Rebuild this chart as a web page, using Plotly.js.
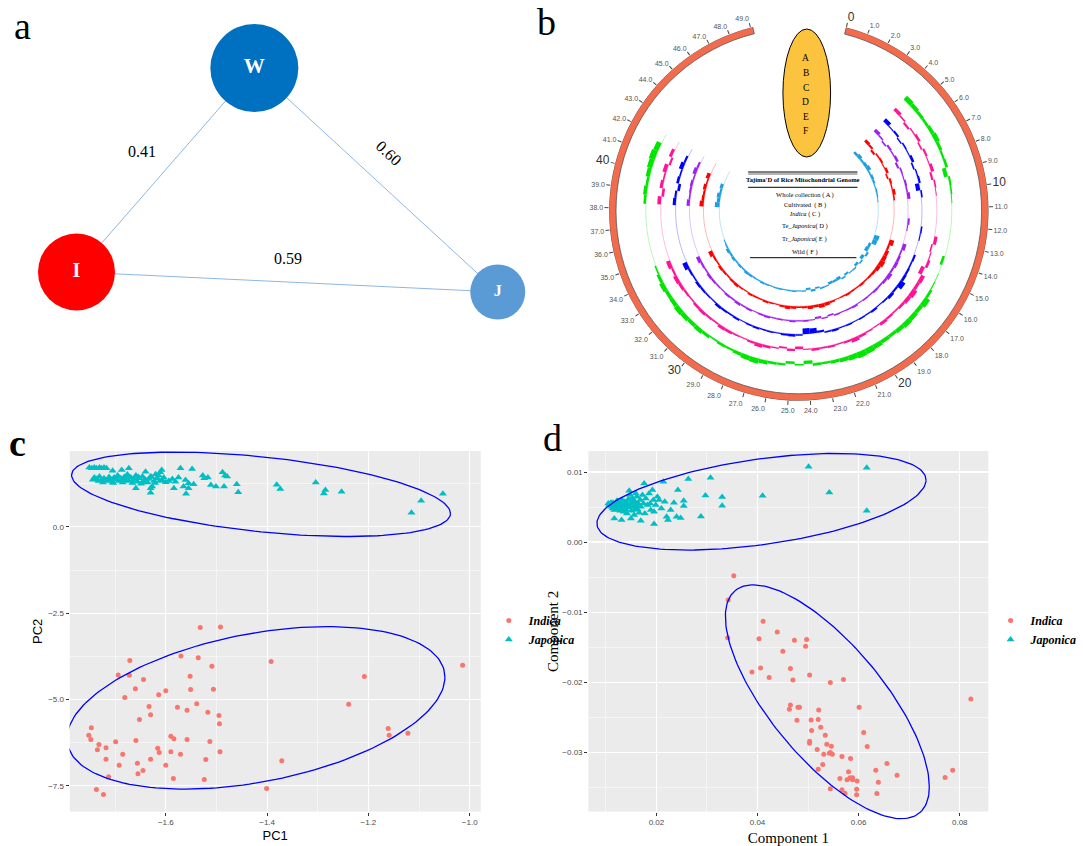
<!DOCTYPE html>
<html><head><meta charset="utf-8">
<script src="https://cdn.plot.ly/plotly-3.0.1.min.js"></script>
<style>html,body{margin:0;padding:0;background:#fff}#chart{width:1083px;height:846px}</style>
</head><body><div id="chart"></div>
<script>
// ================= DATA =================
// (a) network
const networkNodes = ['W', 'I', 'J'];
const networkEdgeFrom = ['I', 'W', 'I'];
const networkEdgeTo = ['W', 'J', 'J'];
const networkWeights = [0.41, 0.60, 0.59];

// (b) circular Tajima's D tracks (window position, genome units 0-49)
const chromTicks = [0,1,2,3,4,5,6,7,8,9,10,11,12,13,14,15,16,17,18,19,20,21,22,23,24,25,26,27,28,29,30,31,32,33,34,35,36,37,38,39,40,41,42,43,44,45,46,47,48,49];
const chromLength = 49.1;
const tajimaPos = [4.5,5,5.5,6,6.5,7,7.5,8,8.5,9,9.5,10,10.5,11,11.5,12,12.5,13,13.5,14,14.5,15,15.5,16,16.5,17,17.5,18,18.5,19,19.5,20,20.5,21,21.5,22,22.5,23,23.5,24,24.5,25,25.5,26,26.5,27,27.5,28,28.5,29,29.5,30,30.5,31,31.5,32,32.5,33,33.5,34,34.5,35,35.5,36,36.5,37,37.5,38,38.5,39,39.5,40,40.5,41,41.5,42];
const tajimaTrackEnd = 42.3;
const tajimaA = [1.0,1.4,0.8,1.2,1.6,0.6,1.0,0.8,0.4,0.6, 0.5,0.3,0,0,0,0,0,0,0,2.0, 1.8,-1.0,-1.4,0.8,-1.2,0.6,-1.0,0.5,0.4,-0.8, 0.6,-1.2,-0.8,-1.0,0.5,0.6,-0.6,0.8,-0.8,0.5, 0.4,0.6,0.5,0.4,0.6,0.5,0.4,0.6,0.8,0.5, 0.6,0.8,1.0,0.6,0.8,0.6,1.0,0.8,1.2,0.6, 0.4,0,0,0,0,0,0,0,1.8,1.2, 1.5,0.8,1.2,0,0,0];
const tajimaB = [1.2,0.8,-0.8,0.6,0.8,0.4,1.0,-0.6,0.8,0.5, 1.2,0.6,0,0,0,0,0,0,0,1.8, 0.8,1.4,1.6,2.0,1.5,1.0,0.8,0.6,0.8,0.5, 0.6,0.8,0.5,0.4,0.8,1.2,1.5,1.0,1.2,0.8, 0.6,1.0,1.2,0.8,0.4,0.6,0.8,0.5,0.6,0.8, 0.4,0.6,1.0,0.8,0.6,0.8,1.0,0.6,0.8,1.6, 0,0,0,0,0,0,0,0,1.6,1.0, 0.8,1.2,0.6,1.4,0,0];
const tajimaC = [1.4,0.6,-0.6,0.8,0.5,1.0,-0.8,0.6,0.4,0.8, 0.6,1.2,0,0,0,0.8,0.4,0,0,1.4, 0.6,1.0,1.2,0.8,1.5,1.0,0.6,0.8,0.5,0.6, 0.4,0.8,0.6,0.4,0.6,-0.6,0.5,-0.8,0.4,0.6, 0.5,0.8,0.4,0.6,0.5,0.8,0.6,0.4,0.8,0.6, 1.0,0.6,0.8,0.5,0.6,0.8,1.0,0.6,0.8,1.4, 0,0,0,0,0,0,0,0,1.2,0.6, 0.8,1.0,0.6,1.4,0.8,0];
const tajimaD = [1.6,0.4,0.8,-0.5,0.6,0.4,1.0,-0.6,0.5,0.8, -1.6,0.6,0,0,0,0,0.6,0.4,0,0, 0.8,0.6,0.8,1.0,2.2,0.8,1.2,0.6,0.4,0.8, 0.5,0.6,0.4,0.6,0.5,0.8,0.6,-0.8,-2.0,-2.2, 0.6,1.0,0.8,0.4,0.6,0.5,0.8,0.6,0.4,0.8, 0.6,0.8,1.0,0.5,0.6,0.8,1.0,0.6,0.8,1.8, 0,0,0,0,0,0,0,0,1.2,0.8, -1.0,1.0,0.6,1.6,0.8,0];
const tajimaE = [1.4,0.6,-0.8,0.5,1.0,-0.6,0.8,0.4,1.2,-0.8, 0.6,0.3,0,0,0,0,0,1.2,-0.6,0.4, 1.0,-1.5,1.6,1.2,2.0,1.5,1.0,0.6,0.8,1.2, 0.4,0.6,1.0,1.6,0.8,0.5,0.8,0.6,1.0,0.4, -1.0,0.8,-0.6,0.5,1.0,1.4,0.8,0.4,0.6,1.0, 1.2,0.6,0.8,1.2,1.0,0.6,0.8,1.2,1.5,0.8, 1.6,0,0,0,0,0,0,0,1.4,-1.0, 1.2,0.6,1.5,-0.8,1.2,0];
const tajimaF = [2.0,1.6,1.2,1.0,1.4,1.8,1.2,0.8,1.0,-1.5, 0.8,0.6,0.3,0,0,0,0,0,0,-1.0, 0,0.2,0.4,1.0,2.2,1.5,1.8,2.0,1.6,1.2, 1.4,1.8,2.2,2.4,2.0,1.6,1.2,0.8,1.0,-1.2, 0.6,-0.9,0.8,1.0,1.5,2.0,1.8,1.2,0.8,1.0, 0.6,1.2,1.6,1.4,1.8,2.0,1.6,1.4,1.8,1.2, 0.6,0,0,0,0,0,0,0,1.0,1.4, 1.0,1.6,2.0,2.4,2.0,0];
const tajimaLetters = ['A','B','C','D','E','F'];
const tajimaLegend = ['Whole collection ( A )', 'Cultivated  ( B )', '<i>Indica</i> ( C )', 'Te_<i>Japonica</i>( D )', 'Tr_<i>Japonica</i>( E )', 'Wild ( F )'];

// (c) PCA
const pcaIndicaPC1 = [-1.532,-1.492,-1.671,-1.570,-1.536,-1.392,-1.014,-1.509,-1.694,-1.672,-1.552,-1.208,-1.644,-1.660,-1.600,-1.551,-1.506,-1.614,-1.681,-1.239,-1.539,-1.633,-1.577,-1.558,-1.517,-1.630,-1.495,-1.652,-1.494,-1.747,-1.161,-1.752,-1.159,-1.122,-1.590,-1.584,-1.748,-1.558,-1.659,-1.699,-1.513,-1.732,-1.616,-1.718,-1.735,-1.590,-1.613,-1.493,-1.685,-1.571,-1.630,-1.718,-1.521,-1.371,-1.656,-1.692,-1.600,-1.645,-1.655,-1.713,-1.585,-1.524,-1.401,-1.737,-1.723];
const pcaIndicaPC2 = [-2.915,-2.896,-3.871,-3.736,-3.793,-3.900,-4.006,-4.035,-4.286,-4.295,-4.324,-4.334,-4.421,-4.691,-4.749,-4.710,-4.701,-4.865,-4.942,-5.135,-5.126,-5.203,-5.222,-5.309,-5.367,-5.444,-5.463,-5.579,-5.705,-5.820,-5.840,-6.033,-6.033,-5.975,-6.062,-6.139,-6.158,-6.158,-6.187,-6.226,-6.216,-6.303,-6.409,-6.400,-6.458,-6.515,-6.535,-6.515,-6.583,-6.583,-6.728,-6.728,-6.737,-6.776,-6.844,-6.902,-6.902,-7.056,-7.153,-7.239,-7.288,-7.317,-7.577,-7.606,-7.751];
const pcaJaponicaPC1 = [-1.751,-1.746,-1.741,-1.737,-1.731,-1.727,-1.722,-1.717,-1.705,-1.687,-1.673,
 -1.741,-1.737,-1.731,-1.727,-1.722,-1.717,-1.712,-1.708,-1.705,-1.702,-1.699,-1.695,-1.692,-1.689,-1.685,-1.682,-1.679,-1.676,-1.673,-1.669,-1.666,-1.663,-1.659,-1.656,-1.653,-1.649,-1.646,-1.643,-1.636,-1.633,-1.623,-1.617,-1.607,-1.604,-1.594,-1.587,-1.581,
 -1.744,-1.733,-1.724,-1.713,-1.704,-1.693,-1.684,-1.674,-1.665,-1.654,-1.645,-1.640,-1.628,-1.621,-1.612,
 -1.659,-1.630,-1.630,-1.627,
 -1.608,-1.611,-1.614,-1.620,-1.640,-1.630,-1.600,-1.584,-1.575,-1.571,-1.561,-1.555,-1.565,-1.545,-1.555,-1.560,-1.548,-1.527,-1.524,-1.517,-1.511,-1.501,-1.485,-1.488,-1.483,-1.479,-1.460,-1.457,
 -1.381,-1.374,-1.304,-1.288,-1.285,-1.253,-1.115,-1.096,-1.053];
const pcaJaponicaPC2 = [1.72,1.70,1.72,1.70,1.72,1.70,1.72,1.70,1.63,1.65,1.70,
 1.43,1.39,1.46,1.36,1.41,1.33,1.45,1.37,1.31,1.43,1.37,1.49,1.33,1.41,1.29,1.45,1.37,1.52,1.33,1.43,1.27,1.39,1.49,1.31,1.41,1.25,1.46,1.35,1.29,1.39,1.33,1.41,1.35,1.43,1.33,1.39,1.31,
 1.37,1.33,1.29,1.37,1.27,1.43,1.35,1.47,1.35,1.45,1.29,1.37,1.45,1.27,1.33,
 1.120,1.120,0.994,1.168,
 1.651,1.583,1.487,1.525,1.602,1.458,1.294,1.120,1.429,1.699,1.361,1.265,1.168,1.236,1.120,0.965,1.680,1.487,1.409,1.429,1.216,1.168,1.168,1.583,1.487,1.458,1.236,1.004,
 1.22,1.10,1.29,0.97,1.07,1.02,0.41,0.76,0.96];

// (d) component analysis
const compIndica1 = [0.0353,0.0342,0.0341,0.0411,0.0439,0.0403,0.0473,0.0497,0.0495,0.0450,0.0465,0.0406,0.0389,0.0423,0.0503,0.0470,0.0570,0.0544,0.0822,0.0465,0.0480,0.0483,0.0601,0.0463,0.0521,0.0478,0.0506,0.0520,0.0525,0.0507,0.0610,0.0534,0.0617,0.0503,0.0503,0.0537,0.0546,0.0518,0.0542,0.0548,0.0531,0.0544,0.0567,0.0584,0.0656,0.0529,0.0634,0.0786,0.0520,0.0580,0.0676,0.0563,0.0577,0.0583,0.0588,0.0588,0.0597,0.0771,0.0639,0.0544,0.0567,0.0573,0.0596,0.0596,0.0636];
const compIndica2 = [-0.0048,-0.00827,-0.01365,-0.01132,-0.01284,-0.01379,-0.01403,-0.01393,-0.01488,-0.0156,-0.01807,-0.01797,-0.01855,-0.01935,-0.01897,-0.01969,-0.01964,-0.02007,-0.0224,-0.02325,-0.02359,-0.02359,-0.02359,-0.02387,-0.02397,-0.02544,-0.02539,-0.02534,-0.02644,-0.02691,-0.0272,-0.02758,-0.0292,-0.02844,-0.02872,-0.02886,-0.02915,-0.02962,-0.03015,-0.03029,-0.03029,-0.03005,-0.03062,-0.03091,-0.03162,-0.03176,-0.03257,-0.03257,-0.03243,-0.03281,-0.03329,-0.03376,-0.03395,-0.03367,-0.03395,-0.03367,-0.0341,-0.03362,-0.03428,-0.03524,-0.03538,-0.03585,-0.03528,-0.03609,-0.0359];
const compJaponica1 = [0.01049,0.01068,0.01101,0.01114,0.01134,0.01154,0.01167,0.0118,0.0120,0.0122,0.01232,0.01245,0.01265,0.01285,0.01298,0.01311,0.01331,0.0135,0.01363,0.01377,0.01396,0.01416,0.01429,0.01442,0.01462,0.01481,0.01495,0.01508,0.01527,0.01547,0.0156,0.01573,0.01593,0.01613,0.01626,0.01639,0.01658,0.01678,0.01691,0.01724,0.01744,0.01757,0.0177,0.0179,0.01822,0.01855,0.01875,0.01888,0.01921,0.0194,0.01953,0.01986,0.02019,0.02052,0.02098,0.02137,0.02164,0.02203,0.02229,0.02282,0.02347,0.02399,0.02425,0.01311,0.01167,0.01495,0.01691,0.01953,
 0.0109,0.0114,0.0119,0.0126,0.0134,0.0140,0.0147,0.0154,0.0161,0.0122,0.0132,0.0128,0.0139,0.0148,0.0157,
 0.0501,0.0616,0.0542,0.0616,0.0410,0.0307,0.0263,0.0330,0.0330,0.0297,0.0288,0.0254,0.0254,0.0248];
const compJaponica2 = [0.00552,0.00528,0.00561,0.00504,0.0048,0.00514,0.00456,0.00537,0.00495,0.00466,0.00528,0.00571,0.00504,0.00447,0.00552,0.0048,0.00514,0.00433,0.00575,0.00466,0.00533,0.00409,0.00495,0.00609,0.00732,0.0067,0.00552,0.00447,0.00623,0.00504,0.00385,0.00575,0.00694,0.00647,0.00466,0.00552,0.00418,0.00599,0.00504,0.0067,0.00552,0.00837,0.00409,0.00623,0.00528,0.00694,0.00552,0.00456,0.00742,0.00599,0.00433,0.00528,0.00647,0.00599,0.0048,0.00861,0.00575,0.00361,0.00314,0.00456,0.00561,0.00361,0.00742,0.00314,0.00338,0.00338,0.00304,0.00257,
 0.0054,0.0056,0.0055,0.0053,0.0054,0.0057,0.0052,0.0056,0.0051,0.0059,0.0060,0.0049,0.0047,0.0060,0.0046,
 0.01075,0.0106,0.00709,0.00447,0.00661,0.00918,0.00899,0.00642,0.00518,0.00666,0.00366,0.0059,0.00514,0.00342];

// ================= STYLE / GEOMETRY =================
const W = 1083, H = 846;
const px = x => x / W, py = y => 1 - y / H;
const SERIF = 'Liberation Serif, Times New Roman, serif';
const SANS = 'Liberation Sans, Arial, sans-serif';
const INDICA_COL = '#F8766D', JAPONICA_COL = '#00BFC4';

const nodeXY = {W: [256, 68], I: [77, 272], J: [501, 292]};
const nodeSize = {W: 88, I: 77, J: 55};
const nodeColor = {W: '#0070C0', I: '#FF0000', J: '#5B9BD5'};
const nodeFont = {W: 21, I: 20, J: 16};
const edgeLabelXY = [[143, 151, 0], [392, 153, 43], [290, 258, 0]];

const degPerUnit = 6.75;          // angular scale of the ring
const ringInner = 184, ringOuter = 191;
const trackColors = ['#1E9FE0', '#FF0000', '#A020F0', '#0000FF', '#FF1493', '#00E600'];
const trackRadius = [80, 96, 110, 124, 139, 154];
const trackScale = 2.6;
const trackValues = [tajimaA, tajimaB, tajimaC, tajimaD, tajimaE, tajimaF];

// ellipses (center + conjugate semi-axes, data units)
const ellC = {
  jap: {cx: -1.412, cy: 0.946, ux: 0.374, uy: -0.555, vx: 0, vy: 1.09},
  ind: {cx: -1.422, cy: -5.241, ux: 0.373, uy: 0.888, vx: 0, vy: 2.18}
};
const ellD = {
  jap: {cx: 0.04078, cy: 0.005754, ux: 0.03255, uy: 0.00309, vx: 0, vy: 0.006163},
  ind: {cx: 0.05381, cy: -0.0228, ux: 0.02017, uy: -0.01213, vx: 0, vy: 0.01147}
};
function ellipse(e) {
  const xs = [], ys = [];
  for (let k = 0; k <= 180; k++) {
    const t = 2 * Math.PI * k / 180;
    xs.push(e.cx + e.ux * Math.cos(t) + e.vx * Math.sin(t));
    ys.push(e.cy + e.uy * Math.cos(t) + e.vy * Math.sin(t));
  }
  return {xs, ys};
}

const traces = [];

// ---- (a) network ----
networkWeights.forEach((w, i) => {
  const a = nodeXY[networkEdgeFrom[i]], b = nodeXY[networkEdgeTo[i]];
  traces.push({type: 'scatter', mode: 'lines', x: [a[0], b[0]], y: [a[1], b[1]], xaxis: 'x3', yaxis: 'y3',
    line: {color: '#8DB6E4', width: 1}, showlegend: false, hoverinfo: 'skip'});
});
traces.push({type: 'scatter', mode: 'markers+text', xaxis: 'x3', yaxis: 'y3',
  x: networkNodes.map(n => nodeXY[n][0]), y: networkNodes.map(n => nodeXY[n][1]),
  text: networkNodes.map(n => '<b>' + n + '</b>'), textposition: 'middle center',
  textfont: {family: SERIF, color: '#fff', size: networkNodes.map(n => nodeFont[n])},
  marker: {size: networkNodes.map(n => nodeSize[n]), color: networkNodes.map(n => nodeColor[n]), line: {width: 0}, opacity: 1},
  showlegend: false, hoverinfo: 'skip'});

// ---- (b) circular plot ----
traces.push({type: 'barpolar', subplot: 'polar', r: [ringOuter - ringInner], base: [ringInner],
  theta: [chromLength / 2 * degPerUnit], width: [chromLength * degPerUnit],
  marker: {color: '#F26B4D', line: {color: '#555', width: 0.8}}, showlegend: false, hoverinfo: 'skip'});
trackValues.forEach((vals, k) => {
  const basePos = tajimaPos.concat([tajimaTrackEnd]);
  traces.push({type: 'scatterpolar', subplot: 'polar', mode: 'lines',
    theta: basePos.map(p => p * degPerUnit), r: basePos.map(() => trackRadius[k]),
    line: {color: trackColors[k], width: 0.7}, opacity: 0.4, showlegend: false, hoverinfo: 'skip'});
  traces.push({type: 'barpolar', subplot: 'polar',
    theta: tajimaPos.map(p => p * degPerUnit), r: vals.map(v => v * trackScale),
    base: tajimaPos.map(() => trackRadius[k]), width: tajimaPos.map(() => 0.5 * degPerUnit),
    marker: {color: trackColors[k], line: {width: 0}}, showlegend: false, hoverinfo: 'skip'});
});

// ---- (c) PCA ----
traces.push({type: 'scatter', mode: 'markers', x: pcaIndicaPC1, y: pcaIndicaPC2, name: '<b><i>Indica</i></b>',
  marker: {color: INDICA_COL, size: 5, symbol: 'circle'}, legend: 'legend', hoverinfo: 'skip'});
traces.push({type: 'scatter', mode: 'markers', x: pcaJaponicaPC1, y: pcaJaponicaPC2, name: '<b><i>Japonica</i></b>',
  marker: {color: JAPONICA_COL, size: 7, symbol: 'triangle-up'}, legend: 'legend', hoverinfo: 'skip'});
['jap', 'ind'].forEach(k => {
  const e = ellipse(ellC[k]);
  traces.push({type: 'scatter', mode: 'lines', x: e.xs, y: e.ys, line: {color: '#0000FF', width: 1.3},
    showlegend: false, hoverinfo: 'skip'});
});

// ---- (d) components ----
traces.push({type: 'scatter', mode: 'markers', x: compIndica1, y: compIndica2, xaxis: 'x2', yaxis: 'y2', name: '<b><i>Indica</i></b>',
  marker: {color: INDICA_COL, size: 5, symbol: 'circle'}, legend: 'legend2', hoverinfo: 'skip'});
traces.push({type: 'scatter', mode: 'markers', x: compJaponica1, y: compJaponica2, xaxis: 'x2', yaxis: 'y2', name: '<b><i>Japonica</i></b>',
  marker: {color: JAPONICA_COL, size: 7, symbol: 'triangle-up'}, legend: 'legend2', hoverinfo: 'skip'});
// ellipses on an overlay axis pair with the same scale, so they are not clipped at the panel edge
['jap', 'ind'].forEach(k => {
  const e = ellipse(ellD[k]);
  traces.push({type: 'scatter', mode: 'lines', x: e.xs, y: e.ys, xaxis: 'x4', yaxis: 'y4', line: {color: '#0000FF', width: 1.3},
    showlegend: false, hoverinfo: 'skip'});
});

// ================= LAYOUT =================
const cRangeX = [-1.790, -0.978], cRangeY = [-8.25, 2.2];
const dRangeX = [0.0065, 0.0857], dRangeY = [-0.0385, 0.013];
const dTop = 451, dBottom = 811.7, dExt = 830;
const dPerPx = (dRangeY[1] - dRangeY[0]) / (dBottom - dTop);
const gridAxis = (extra) => Object.assign({
  showgrid: true, gridcolor: '#FFFFFF', gridwidth: 1.1, zeroline: false, showline: false,
  ticks: 'outside', ticklen: 3, tickwidth: 1, tickcolor: '#333',
  tickfont: {family: SANS, size: 8, color: '#4D4D4D'}, fixedrange: true
}, extra);

const angTickText = chromTicks.map(t => t % 10 === 0
  ? '<span style="font-size:12px;fill:#333">' + t + '</span>' : t.toFixed(1));

const ann = (text, x, y, font, extra) => Object.assign({text, x: px(x), y: py(y), xref: 'paper', yref: 'paper',
  xanchor: 'center', yanchor: 'middle', showarrow: false, font}, extra || {});
const annotations = [
  ann('a', 23, 26, {family: SERIF, size: 38, color: '#000'}),
  ann('b', 550, 22, {family: SERIF, size: 38, color: '#000'}),
  ann('<b>c</b>', 18, 443, {family: SERIF, size: 38, color: '#000'}),
  ann('d', 556, 438, {family: SERIF, size: 38, color: '#000'}),
  ann("<b>Tajima'D of Rice Mitochondrial Genome</b>", 808, 180, {family: SERIF, size: 6.5, color: '#000'})
];
networkWeights.forEach((w, i) => {
  annotations.push({text: w.toFixed(2), x: edgeLabelXY[i][0], y: edgeLabelXY[i][1], xref: 'x3', yref: 'y3',
    xanchor: 'center', yanchor: 'middle', showarrow: false, textangle: edgeLabelXY[i][2],
    font: {family: SERIF, size: 16, color: '#000'}});
});
const legendY = [194.7, 205, 213.7, 226, 239, 251.7];
tajimaLegend.forEach((t, i) => annotations.push(ann(t, 810, legendY[i], {family: SERIF, size: 6.5, color: '#000'})));
const letterY = [58, 73, 87.5, 102, 117, 131];
tajimaLetters.forEach((t, i) => annotations.push(ann(t, 811, letterY[i], {family: SERIF, size: 9.5, color: '#000'})));

const shapes = [
  {type: 'rect', xref: 'x', yref: 'y', x0: cRangeX[0], x1: cRangeX[1], y0: cRangeY[0], y1: cRangeY[1], fillcolor: '#EBEBEB', line: {width: 0}, layer: 'below'},
  {type: 'rect', xref: 'x2', yref: 'y2', x0: dRangeX[0], x1: dRangeX[1], y0: dRangeY[0], y1: dRangeY[1], fillcolor: '#EBEBEB', line: {width: 0}, layer: 'below'},
  {type: 'circle', xref: 'paper', yref: 'paper', x0: px(788), x1: px(836), y0: py(157), y1: py(29), fillcolor: '#FCC33E', line: {color: '#000', width: 1}},
  {type: 'line', xref: 'paper', yref: 'paper', x0: px(753), x1: px(863), y0: py(172), y1: py(172), line: {color: '#000', width: 1}},
  {type: 'line', xref: 'paper', yref: 'paper', x0: px(753), x1: px(863), y0: py(174), y1: py(174), line: {color: '#000', width: 0.6}},
  {type: 'line', xref: 'paper', yref: 'paper', x0: px(753), x1: px(863), y0: py(187.3), y1: py(187.3), line: {color: '#000', width: 1}},
  {type: 'line', xref: 'paper', yref: 'paper', x0: px(755), x1: px(862), y0: py(257.7), y1: py(257.7), line: {color: '#000', width: 1}}
];

const layout = {
  width: W, height: H, margin: {l: 0, r: 0, t: 0, b: 0},
  paper_bgcolor: '#FFFFFF', plot_bgcolor: 'rgba(0,0,0,0)',
  font: {family: SANS},
  xaxis: gridAxis({domain: [px(70), px(484)], range: cRangeX, dtick: 0.2, tick0: 0, tickformat: '.1f',
    minor: {dtick: 0.1, showgrid: true, gridcolor: '#FFFFFF', gridwidth: 0.5},
    title: {text: 'PC1', font: {family: SANS, size: 13, color: '#000'}, standoff: 4}}),
  yaxis: gridAxis({domain: [py(811.7), py(451)], range: cRangeY, dtick: 2.5, tick0: 0, tickformat: '.1f',
    minor: {dtick: 1.25, showgrid: true, gridcolor: '#FFFFFF', gridwidth: 0.5},
    title: {text: 'PC2', font: {family: SANS, size: 13, color: '#000'}, standoff: 2}}),
  xaxis2: gridAxis({domain: [px(592), px(995)], range: dRangeX, dtick: 0.02, tick0: 0, tickformat: '.2f', anchor: 'y2',
    minor: {dtick: 0.01, showgrid: true, gridcolor: '#FFFFFF', gridwidth: 0.5},
    title: {text: 'Component 1', font: {family: SERIF, size: 15, color: '#000'}, standoff: 10}}),
  yaxis2: gridAxis({domain: [py(dBottom), py(dTop)], range: dRangeY, dtick: 0.01, tick0: 0, tickformat: '.2f', anchor: 'x2',
    minor: {dtick: 0.005, showgrid: true, gridcolor: '#FFFFFF', gridwidth: 0.5},
    title: {text: 'Component 2', font: {family: SERIF, size: 15, color: '#000'}, standoff: 0}}),
  xaxis3: {domain: [0, 0.5], range: [0, 541.5], visible: false, fixedrange: true, anchor: 'y3'},
  yaxis3: {domain: [py(380), 1], range: [380, 0], visible: false, fixedrange: true, anchor: 'x3'},
  xaxis4: {domain: [px(592), px(995)], range: dRangeX, visible: false, fixedrange: true, anchor: 'y4'},
  yaxis4: {domain: [py(dExt), py(dTop)], range: [dRangeY[0] - (dExt - dBottom) * dPerPx, dRangeY[1]], visible: false, fixedrange: true, anchor: 'x4'},
  polar: {
    domain: {x: [px(804 - ringOuter), px(804 + ringOuter)], y: [py(211 + ringOuter), py(211 - ringOuter)]},
    bgcolor: 'rgba(0,0,0,0)', barmode: 'overlay',
    radialaxis: {range: [0, ringOuter], visible: false, showgrid: false},
    angularaxis: {direction: 'clockwise', rotation: 90 - 14.5, thetaunit: 'degrees',
      tickmode: 'array', tickvals: chromTicks.map(t => t * degPerUnit), ticktext: angTickText,
      ticks: 'outside', ticklen: 4, tickwidth: 1, tickcolor: '#444', showline: false, showgrid: false,
      tickfont: {family: SANS, size: 7, color: '#555'}}
  },
  legend: {x: px(492), y: py(630), xanchor: 'left', yanchor: 'middle', bgcolor: 'rgba(0,0,0,0)',
    font: {family: SERIF, size: 12, color: '#000'}, itemwidth: 30, tracegroupgap: 0},
  legend2: {x: px(997), y: py(630), xanchor: 'left', yanchor: 'middle', bgcolor: 'rgba(0,0,0,0)',
    font: {family: SERIF, size: 12, color: '#000'}, itemwidth: 30, tracegroupgap: 0},
  annotations, shapes
};

Plotly.newPlot('chart', traces, layout, {displayModeBar: false, staticPlot: true});
</script></body></html>
